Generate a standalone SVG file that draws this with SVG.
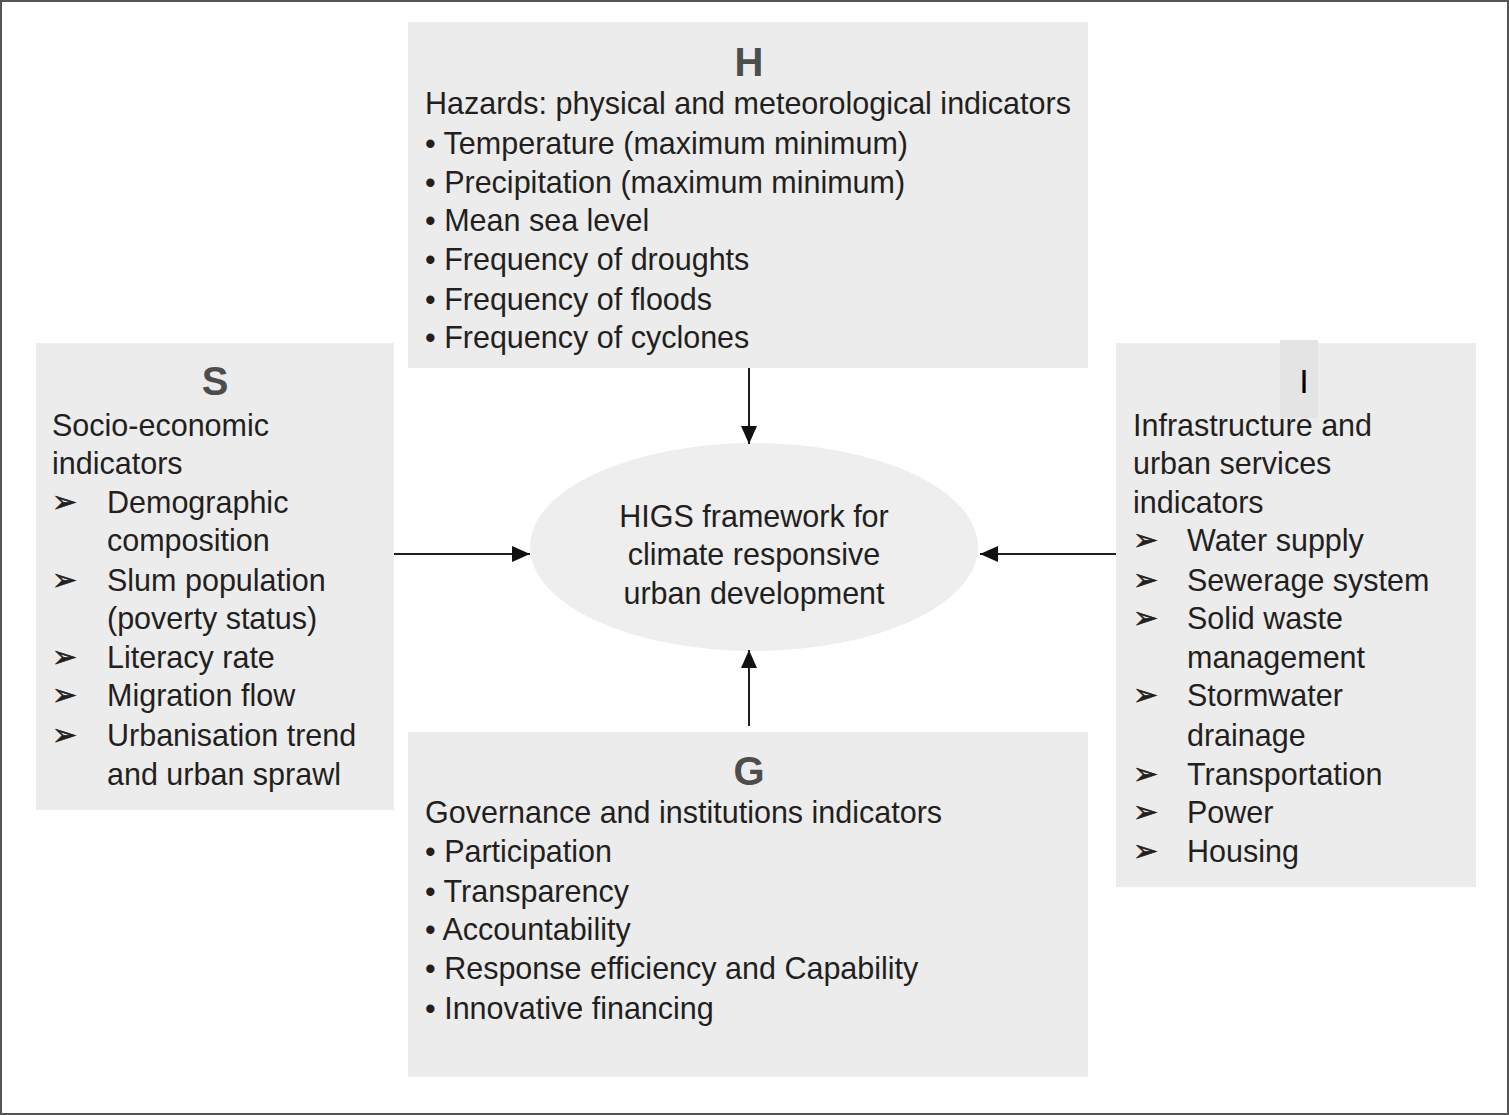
<svg xmlns="http://www.w3.org/2000/svg" width="1509" height="1115" viewBox="0 0 1509 1115">
<style>
.box{fill:#ececec}
.t{font-family:"Liberation Sans",Arial,sans-serif;font-size:30.5px;fill:#231f20}
.hd{font-family:"Liberation Sans",Arial,sans-serif;font-size:40px;font-weight:bold;fill:#4d4d4d;text-anchor:middle}
.ar{font-family:"DejaVu Sans",sans-serif;font-size:30px;fill:#231f20;stroke:#231f20;stroke-width:0.6}
.c{text-anchor:middle}
.ln{stroke:#231f20;stroke-width:2;fill:none}
</style>
<defs>
<marker id="ah" viewBox="0 0 18 16" refX="18" refY="8" markerWidth="18" markerHeight="16" markerUnits="userSpaceOnUse" orient="auto">
<path d="M0,0 L18,8 L0,16 Z" fill="#111"/>
</marker>
</defs>
<rect x="1" y="1" width="1507" height="1113" fill="#fff" stroke="#555" stroke-width="2"/>
<g id="node-H">
<rect class="box" x="408" y="22" width="680" height="346"/>
<text class="hd" x="749" y="76">H</text>
<text class="t" x="425" y="114">Hazards: physical and meteorological indicators</text>
<text class="t" x="425" y="154">• Temperature (maximum minimum)</text>
<text class="t" x="425" y="193">• Precipitation (maximum minimum)</text>
<text class="t" x="425" y="231">• Mean sea level</text>
<text class="t" x="425" y="270">• Frequency of droughts</text>
<text class="t" x="425" y="310">• Frequency of floods</text>
<text class="t" x="425" y="348">• Frequency of cyclones</text>
</g>
<g id="node-S">
<rect class="box" x="36" y="343" width="358" height="467"/>
<text class="hd" x="215" y="395">S</text>
<text class="t" x="52" y="436">Socio-economic</text>
<text class="t" x="52" y="474">indicators</text>
<text class="ar" x="52" y="512">➢</text>
<text class="t" x="107" y="513">Demographic</text>
<text class="t" x="107" y="551">composition</text>
<text class="ar" x="52" y="590">➢</text>
<text class="t" x="107" y="591">Slum population</text>
<text class="t" x="107" y="629">(poverty status)</text>
<text class="ar" x="52" y="667">➢</text>
<text class="t" x="107" y="668">Literacy rate</text>
<text class="ar" x="52" y="705">➢</text>
<text class="t" x="107" y="706">Migration flow</text>
<text class="ar" x="52" y="745">➢</text>
<text class="t" x="107" y="746">Urbanisation trend</text>
<text class="t" x="107" y="785">and urban sprawl</text>
</g>
<g id="node-I">
<rect class="box" x="1116" y="343" width="360" height="544"/>
<rect x="1280" y="340" width="38" height="78" fill="#e4e4e4"/>
<text x="1304" y="393" font-family="Liberation Sans,Arial,sans-serif" font-size="34" fill="#000" text-anchor="middle">I</text>
<text class="t" x="1133" y="436">Infrastructure and</text>
<text class="t" x="1133" y="474">urban services</text>
<text class="t" x="1133" y="513">indicators</text>
<text class="ar" x="1133" y="550">➢</text>
<text class="t" x="1187" y="551">Water supply</text>
<text class="ar" x="1133" y="590">➢</text>
<text class="t" x="1187" y="591">Sewerage system</text>
<text class="ar" x="1133" y="628">➢</text>
<text class="t" x="1187" y="629">Solid waste</text>
<text class="t" x="1187" y="668">management</text>
<text class="ar" x="1133" y="705">➢</text>
<text class="t" x="1187" y="706">Stormwater</text>
<text class="t" x="1187" y="746">drainage</text>
<text class="ar" x="1133" y="784">➢</text>
<text class="t" x="1187" y="785">Transportation</text>
<text class="ar" x="1133" y="822">➢</text>
<text class="t" x="1187" y="823">Power</text>
<text class="ar" x="1133" y="861">➢</text>
<text class="t" x="1187" y="862">Housing</text>
</g>
<g id="node-G">
<rect class="box" x="408" y="732" width="680" height="345"/>
<text class="hd" x="749" y="785">G</text>
<text class="t" x="425" y="823">Governance and institutions indicators</text>
<text class="t" x="425" y="862">• Participation</text>
<text class="t" x="425" y="902">• Transparency</text>
<text class="t" x="425" y="940">• Accountability</text>
<text class="t" x="425" y="979">• Response efficiency and Capability</text>
<text class="t" x="425" y="1019">• Innovative financing</text>
</g>
<g id="node-center">
<ellipse cx="754" cy="547" rx="224" ry="104" fill="#eeeeee"/>
<text class="t c" x="754" y="527">HIGS framework for</text>
<text class="t c" x="754" y="565">climate responsive</text>
<text class="t c" x="754" y="604">urban development</text>
</g>
<g id="connectors">
<line class="ln" x1="749" y1="368" x2="749" y2="444" marker-end="url(#ah)"/>
<line class="ln" x1="394" y1="554" x2="530" y2="554" marker-end="url(#ah)"/>
<line class="ln" x1="1116" y1="554" x2="980" y2="554" marker-end="url(#ah)"/>
<line class="ln" x1="749" y1="726" x2="749" y2="650" marker-end="url(#ah)"/>
</g>
</svg>
